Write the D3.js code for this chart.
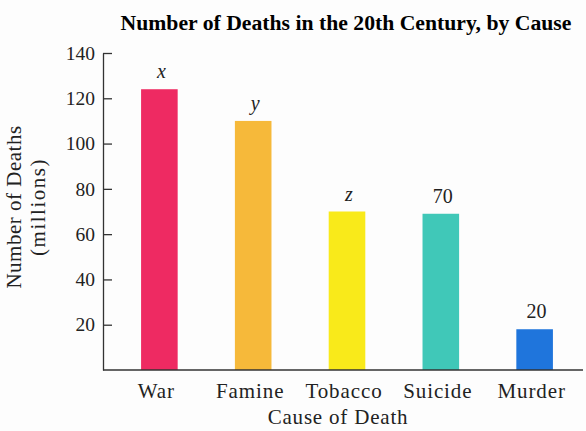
<!DOCTYPE html>
<html>
<head>
<meta charset="utf-8">
<script src="https://cdn.jsdelivr.net/npm/d3@7"></script>
<style>
  body { margin: 0; background: #fdfdfd; }
  svg { display: block; font-family: "Liberation Serif", "Times New Roman", serif; }
</style>
</head>
<body>
<svg width="586" height="431"></svg>
<script>
"use strict";

const causes = ["War", "Famine", "Tobacco", "Suicide", "Murder"];
const deaths = [124, 110, 70, 69, 18];
const barLabels = ["x", "y", "z", "70", "20"];
const barColors = ["#ee2a62", "#f6b93a", "#f9ea1a", "#40c8b8", "#1f75dc"];
const yTicks = [20, 40, 60, 80, 100, 120, 140];

const svg = d3.select("svg");

const x = d3.scaleBand()
  .domain(causes)
  .range([112, 582])
  .paddingInner(0.61)
  .paddingOuter(0.31);

const y = d3.scaleLinear()
  .domain([0, 140])
  .range([370, 53]);

const color = d3.scaleOrdinal(causes, barColors);

// title
svg.append("text")
  .attr("x", 346)
  .attr("y", 30)
  .attr("text-anchor", "middle")
  .style("font-size", "21.7px")
  .style("font-weight", "bold")
  .text("Number of Deaths in the 20th Century, by Cause");

// bars
svg.append("g")
  .selectAll("rect")
  .data(causes)
  .enter()
  .append("rect")
  .attr("x", d => x(d))
  .attr("y", (d, i) => y(deaths[i]))
  .attr("width", x.bandwidth())
  .attr("height", (d, i) => y(0) - y(deaths[i]))
  .style("fill", d => color(d));

// value labels above bars
svg.append("g")
  .selectAll("text")
  .data(causes)
  .enter()
  .append("text")
  .attr("x", d => x(d) + x.bandwidth() / 2 + 2)
  .attr("y", (d, i) => y(deaths[i]) - 11)
  .attr("text-anchor", "middle")
  .style("font-size", "20px")
  .style("font-style", (d, i) => isNaN(+barLabels[i]) ? "italic" : "normal")
  .style("fill", "#222")
  .text((d, i) => barLabels[i]);

// y axis, ticks pointing inward
const yAxis = svg.append("g")
  .attr("transform", "translate(103,0)")
  .call(d3.axisLeft(y).tickValues(yTicks).tickSizeInner(-9).tickSizeOuter(0).tickPadding(8));

yAxis.selectAll("text")
  .style("font-size", "19.5px")
  .style("font-family", "Liberation Serif, serif")
  .style("fill", "#222");
yAxis.selectAll("line, path").style("stroke", "#333").style("stroke-width", 1.3);

// x axis baseline
const xAxis = svg.append("g")
  .attr("transform", "translate(0," + y(0) + ")")
  .call(d3.axisBottom(x).tickSize(0).tickPadding(13));

xAxis.select(".domain")
  .attr("d", "M103,0H583")
  .style("stroke", "#333")
  .style("stroke-width", 1.3);

xAxis.selectAll("text")
  .attr("dx", -3)
  .style("font-size", "21px")
  .style("letter-spacing", "0.9px")
  .style("font-family", "Liberation Serif, serif")
  .style("fill", "#222");

// axis titles
svg.append("text")
  .attr("x", 338)
  .attr("y", 424)
  .attr("text-anchor", "middle")
  .style("font-size", "21px")
  .style("letter-spacing", "0.8px")
  .style("fill", "#222")
  .text("Cause of Death");

svg.append("text")
  .attr("transform", "translate(21,207) rotate(-90)")
  .attr("text-anchor", "middle")
  .style("font-size", "21px")
  .style("letter-spacing", "0.5px")
  .style("fill", "#222")
  .text("Number of Deaths");

svg.append("text")
  .attr("transform", "translate(45,207) rotate(-90)")
  .attr("text-anchor", "middle")
  .style("font-size", "21px")
  .style("letter-spacing", "1.5px")
  .style("fill", "#222")
  .text("(millions)");
</script>
</body>
</html>
